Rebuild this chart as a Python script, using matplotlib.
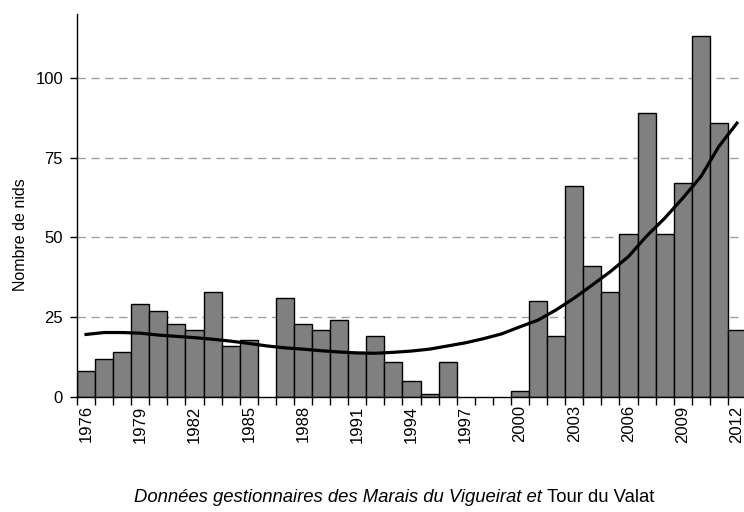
import numpy as np
import matplotlib
matplotlib.use('Agg')
import matplotlib.pyplot as plt
from matplotlib.ticker import FixedLocator

plt.rcParams['font.family'] = ['Liberation Sans', 'DejaVu Sans']

# data
years = list(range(1976, 2013))
nests = [8, 12, 14, 29, 27, 23, 21, 33, 16, 18, np.nan, 31, 23, 21, 24, 14, 19, 11, 5, 1,
         11, np.nan, np.nan, np.nan, 2, 30, 19, 66, 41, 33, 51, 89, 51, 67, 113, 86, 21]
trend = [19.6, 20.2, 20.2, 20.0, 19.4, 19.0, 18.6, 18.1, 17.5, 16.8, 16.0, 15.4, 15.0,
         14.5, 14.1, 13.8, 13.7, 14.0, 14.4, 15.0, 16.0, 17.0, 18.3, 19.8, 22.0, 24.1,
         27.3, 31.0, 35.1, 39.3, 44.0, 50.4, 56.0, 62.3, 69.0, 78.5, 85.8]
y_ticks = [0, 25, 50, 75, 100]
label_years = years[::3]

fig = plt.figure(figsize=(7.44, 5.12), dpi=100)
ax = fig.add_axes([77 / 744, 115 / 512, 669 / 744, 383 / 512])

x = np.arange(len(years))
ax.bar(x, nests, width=1.0, color='#808080', edgecolor='black', linewidth=1.0, zorder=2)
ax.plot(x, trend, color='black', linewidth=2.3, zorder=3)

ax.set_xlim(-0.5, len(years) - 0.5)
ax.set_ylim(0, 120)

# y axis
ax.set_yticks(y_ticks)
ax.tick_params(axis='y', direction='out', length=5, width=1, labelsize=12, pad=5)
for v in y_ticks[1:]:
    ax.axhline(v, color='#a0a0a0', linestyle=(0, (6, 4)), linewidth=1, zorder=1)
ax.set_ylabel('Nombre de nids', fontsize=11.5)
ax.yaxis.set_label_coords(-0.073, 0.423)

# x axis: labels at bar centres, ticks on category boundaries
ax.set_xticks([years.index(y) for y in label_years])
ax.set_xticklabels([str(y) for y in label_years], rotation=90, fontsize=12)
ax.tick_params(axis='x', which='major', length=0, pad=6)
ax.xaxis.set_minor_locator(FixedLocator(np.arange(-0.5, len(years), 1.0)))
ax.tick_params(axis='x', which='minor', direction='out', length=6, width=1)

for s in ['top', 'right']:
    ax.spines[s].set_visible(False)
ax.spines['left'].set_linewidth(1)
ax.spines['bottom'].set_linewidth(1)
ax.spines['bottom'].set_zorder(4)

# source note: italic part followed by regular part
t1 = fig.text(134 / 744, 15 / 512, 'Données gestionnaires des Marais du Vigueirat et ',
              ha='left', va='center', fontsize=13.3, style='italic')
fig.canvas.draw()
bb = t1.get_window_extent()
fig.text(bb.x1 / 744, 15 / 512, 'Tour du Valat', ha='left', va='center', fontsize=13.3)

plt.savefig('out.png', dpi=100)
